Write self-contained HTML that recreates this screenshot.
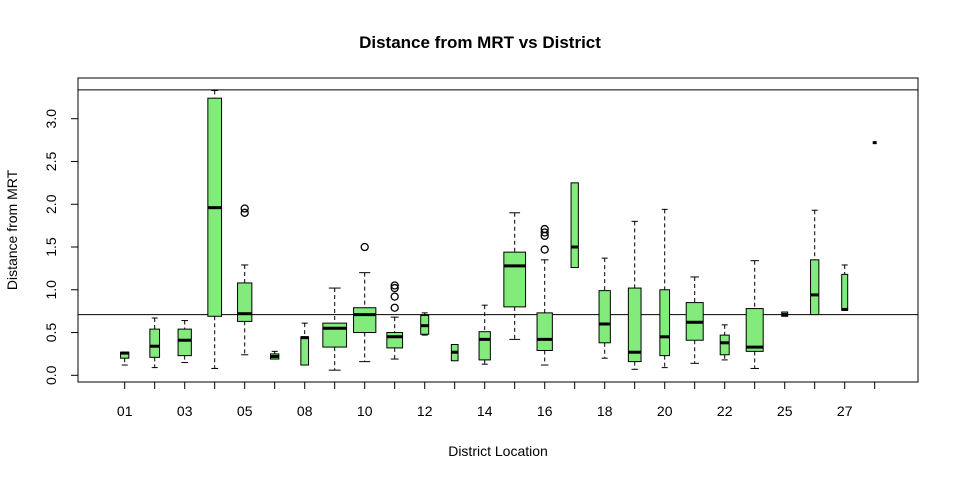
<!DOCTYPE html>
<html><head><meta charset="utf-8"><style>
body{margin:0;background:#fff;}
svg{display:block;font-family:"Liberation Sans",Arial,sans-serif;}
</style></head><body>
<svg id="chart" width="960" height="480"></svg>
<script>
const categories=["01","02","03","04","05","07","08","09","10","11","12","13","14","15","16","17","18","19","20","21","22","23","25","26","27","28"];
const lowWhisker=[0.12,0.09,0.15,0.08,0.24,0.19,0.12,0.06,0.16,0.19,0.47,0.17,0.13,0.42,0.12,1.26,0.20,0.07,0.09,0.14,0.18,0.08,0.69,0.71,0.76,2.72];
const q1Values=[0.20,0.21,0.23,0.69,0.63,0.19,0.12,0.33,0.50,0.32,0.48,0.17,0.18,0.80,0.29,1.26,0.38,0.16,0.23,0.41,0.24,0.28,0.69,0.71,0.76,2.72];
const medianValues=[0.26,0.34,0.41,1.96,0.72,0.22,0.44,0.55,0.71,0.45,0.58,0.27,0.42,1.28,0.42,1.50,0.60,0.27,0.45,0.62,0.38,0.33,0.71,0.94,0.77,2.72];
const q3Values=[0.27,0.54,0.54,3.24,1.08,0.25,0.45,0.61,0.79,0.50,0.70,0.36,0.51,1.44,0.73,2.25,0.99,1.02,1.00,0.85,0.47,0.78,0.74,1.35,1.18,2.72];
const highWhisker=[0.27,0.67,0.64,3.33,1.29,0.28,0.61,1.02,1.20,0.68,0.73,0.36,0.82,1.90,1.35,2.25,1.37,1.80,1.94,1.15,0.59,1.34,0.74,1.93,1.29,2.72];
const boxWidths=[8.3,9.7,13.3,13.7,14.3,8.3,7.7,23.7,22.3,15.7,8,6.7,11.3,21.7,15.3,7.3,11.3,12.7,9.7,17,9,17,6,8.3,6,4];
const outlierGroups=[4,4,8,9,9,9,9,14,14,14,14];
const outlierValues=[1.95,1.90,1.50,1.05,1.02,0.92,0.79,1.71,1.67,1.63,1.47];
const yTicks=[0,0.5,1,1.5,2,2.5,3];
const yTickLabels=["0.0","0.5","1.0","1.5","2.0","2.5","3.0"];
const hLines=[3.337,0.71];
const xLabelIdx=[0,2,4,6,8,10,12,14,16,18,20,22,24];

const NS="http://www.w3.org/2000/svg";
const svg=document.getElementById('chart');
function y(v){return 375.3-v*85.53;}
function x(i){return 124.7+i*30;}
function el(t,a,txt){const e=document.createElementNS(NS,t);for(const k in a)e.setAttribute(k,a[k]);if(txt!==undefined)e.textContent=txt;svg.appendChild(e);return e;}
let e;
e=el('text',{x:480,y:48,'text-anchor':'middle','font-size':17,'font-weight':'bold'},'Distance from MRT vs District');


e=el('rect',{x:78,y:78,width:840,height:304,fill:'none',stroke:'#000','stroke-width':1});


hLines.forEach(v=>{
 e=el('line',{x1:78,x2:918,y1:y(v),y2:y(v),stroke:'#000','stroke-width':1});
 
 
});
// y axis
e=el('line',{x1:78,x2:78,y1:y(0),y2:y(3),stroke:'#000'});


yTicks.forEach((v,i)=>{
 e=el('line',{x1:71,x2:78,y1:y(v),y2:y(v),stroke:'#000'});
 
 
 e=el('text',{x:0,y:0,'text-anchor':'middle','font-size':14,transform:`translate(56,${y(v)}) rotate(-90)`},yTickLabels[i]);
 
 
});
e=el('text',{x:0,y:0,'text-anchor':'middle','font-size':14,transform:'translate(17,230) rotate(-90)'},'Distance from MRT');


// x axis
e=el('line',{x1:x(0),x2:x(categories.length-1),y1:382,y2:382,stroke:'#000'});


categories.forEach((c,i)=>{
 e=el('line',{x1:x(i),x2:x(i),y1:382,y2:389,stroke:'#000'});
 
 
});
xLabelIdx.forEach(i=>{
 e=el('text',{x:x(i),y:416,'text-anchor':'middle','font-size':14},categories[i]);
 
 
});
e=el('text',{x:498,y:456,'text-anchor':'middle','font-size':14},'District Location');


// boxes
categories.forEach((c,i)=>{
 const cx=x(i),w=boxWidths[i],hw=w/2;
 const g=document.createElementNS(NS,'g');svg.appendChild(g);
 
 
 function add(t,a){const n=document.createElementNS(NS,t);for(const k in a)n.setAttribute(k,a[k]);g.appendChild(n);}
 const cap=Math.max(3,hw*0.5);
 if(highWhisker[i]>q3Values[i]){
  add('line',{x1:cx,x2:cx,y1:y(highWhisker[i]),y2:y(q3Values[i]),stroke:'#000','stroke-dasharray':'4,3'});
  add('line',{x1:cx-cap,x2:cx+cap,y1:y(highWhisker[i]),y2:y(highWhisker[i]),stroke:'#000'});
 }
 if(lowWhisker[i]<q1Values[i]){
  add('line',{x1:cx,x2:cx,y1:y(q1Values[i]),y2:y(lowWhisker[i]),stroke:'#000','stroke-dasharray':'4,3'});
  add('line',{x1:cx-cap,x2:cx+cap,y1:y(lowWhisker[i]),y2:y(lowWhisker[i]),stroke:'#000'});
 }
 if(q3Values[i]>q1Values[i]){
  add('rect',{x:cx-hw,y:y(q3Values[i]),width:w,height:y(q1Values[i])-y(q3Values[i]),fill:'#83eb7c',stroke:'#000','stroke-width':1});
 }
 add('line',{x1:cx-hw,x2:cx+hw,y1:y(medianValues[i]),y2:y(medianValues[i]),stroke:'#000','stroke-width':3});
});
outlierValues.forEach((v,k)=>{
 e=el('circle',{cx:x(outlierGroups[k]),cy:y(v),r:3.5,fill:'none',stroke:'#000','stroke-width':1.3});
 
 
});
</script>
</body></html>
